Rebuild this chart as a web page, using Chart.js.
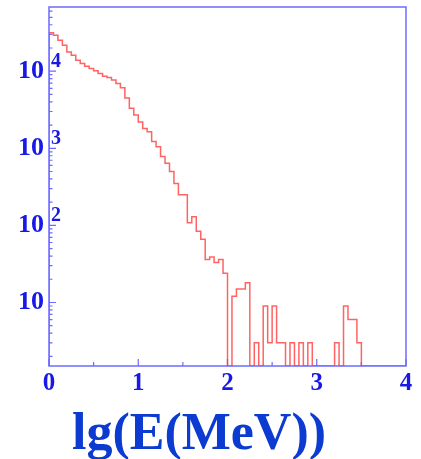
<!DOCTYPE html>
<html>
<head>
<meta charset="utf-8">
<script src="https://cdn.jsdelivr.net/npm/chart.js@4/dist/chart.umd.min.js"></script>
<style>
  body { margin: 0; background: #fff; }
  canvas { display: block; }
</style>
</head>
<body>
<canvas id="spectrum" width="421" height="459"></canvas>
<script>
// histogram: 80 bins of 0.05 in lg(E/MeV), counts
const binWidth = 0.05;
const xMin = 0;
const xMax = 4;
const counts = [
  31600, 29200, 25100, 21700, 17800, 16100, 13900, 12600, 11600, 10800,
  10100, 9300, 8600, 8300, 7700, 6900, 6100, 4500, 3300, 2700,
  2200, 1800, 1640, 1220, 1050, 780, 640, 500, 350, 249,
  249, 108, 129, 84, 66, 36, 39, 33, 36, 24,
  0, 12, 15, 15, 18, 0, 3, 0, 9, 3,
  9, 3, 3, 0, 3, 0, 3, 0, 3, 0,
  0, 0, 0, 0, 3, 0, 9, 6, 6, 3,
  0, 0, 0, 0, 0, 0, 0, 0, 0, 0
];
const xTicks = [0, 1, 2, 3, 4];
const yTicks = [10, 100, 1000, 10000];
const yExponents = ['', '2', '3', '4'];
const yMin = 1.5;
const yMax = 68000;
const axisTitle = 'lg(E(MeV))';

const axisColor = '#6b6bff';
const labelColor = '#1919e6';
const titleColor = '#0b3bd0';
const lineColor = 'rgba(255, 60, 60, 0.8)';
const serif = "'Liberation Serif', 'DejaVu Serif', serif";

// outline of the histogram; empty bins sit on the axis floor (log scale can't show 0)
const floor = c => (c > 0 ? c : yMin);
const points = [{ x: xMin, y: yMin }];
counts.forEach((c, i) => points.push({ x: xMin + i * binWidth, y: floor(c) }));
points.push({ x: xMax, y: yMin });

// ROOT-like frame with ticks pointing inwards
const framePlugin = {
  id: 'frame',
  beforeDatasetsDraw(chart) {
    const { ctx, chartArea: a, scales: { x, y } } = chart;
    ctx.save();
    ctx.strokeStyle = axisColor;
    ctx.lineWidth = 1.5;
    ctx.strokeRect(a.left, a.top, a.right - a.left, a.bottom - a.top);

    ctx.lineWidth = 1.2;
    ctx.beginPath();
    // x ticks every 0.5, longer at integers
    for (let v = xMin; v <= xMax; v += 0.5) {
      const px = x.getPixelForValue(v);
      const len = Number.isInteger(v) ? 7 : 4;
      ctx.moveTo(px, a.bottom);
      ctx.lineTo(px, a.bottom - len);
    }
    // y ticks: decades and log minors
    for (let d = 1; d <= 10000; d *= 10) {
      for (let k = 1; k <= 9; k++) {
        const v = k * d;
        if (v < yMin || v > yMax) continue;
        const py = y.getPixelForValue(v);
        const len = k === 1 ? 7 : 3.5;
        ctx.moveTo(a.left, py);
        ctx.lineTo(a.left + len, py);
      }
    }
    ctx.stroke();
    ctx.restore();
  },
  afterDraw(chart) {
    const { ctx, scales: { y } } = chart;
    ctx.save();
    ctx.fillStyle = labelColor;
    ctx.font = 'bold 20px ' + serif;
    ctx.textAlign = 'left';
    ctx.textBaseline = 'alphabetic';
    yTicks.forEach((v, i) => {
      if (!yExponents[i]) return;
      ctx.fillText(yExponents[i], 51, y.getPixelForValue(v) - 4);
    });

    ctx.fillStyle = titleColor;
    ctx.font = 'bold 52px ' + serif;
    ctx.textAlign = 'center';
    ctx.fillText(axisTitle, 199, 449);
    ctx.restore();
  }
};

new Chart(document.getElementById('spectrum'), {
  type: 'line',
  data: {
    datasets: [{
      data: points,
      borderColor: lineColor,
      borderWidth: 1.5,
      stepped: true,
      pointRadius: 0,
      fill: false
    }]
  },
  options: {
    responsive: false,
    animation: false,
    devicePixelRatio: 1,
    layout: { padding: { top: 7, right: 15, left: 0, bottom: 0 } },
    plugins: { legend: { display: false }, tooltip: { enabled: false } },
    scales: {
      x: {
        type: 'linear',
        min: xMin,
        max: xMax,
        afterBuildTicks: s => { s.ticks = xTicks.map(v => ({ value: v })); },
        afterFit: s => { s.height = 93; s.paddingLeft = 0; s.paddingRight = 0; },
        ticks: {
          callback: v => String(v),
          font: { family: serif, size: 25, weight: 'bold' },
          color: labelColor,
          padding: 3,
          maxRotation: 0
        },
        grid: { display: false, drawTicks: false },
        border: { display: false }
      },
      y: {
        type: 'logarithmic',
        min: yMin,
        max: yMax,
        afterBuildTicks: s => { s.ticks = yTicks.map(v => ({ value: v })); },
        afterFit: s => { s.width = 49; s.paddingTop = 0; s.paddingBottom = 0; },
        ticks: {
          callback: () => '10',
          font: { family: serif, size: 26, weight: 'bold' },
          color: labelColor,
          padding: 5
        },
        grid: { display: false, drawTicks: false },
        border: { display: false }
      }
    }
  },
  plugins: [framePlugin]
});
</script>
</body>
</html>
